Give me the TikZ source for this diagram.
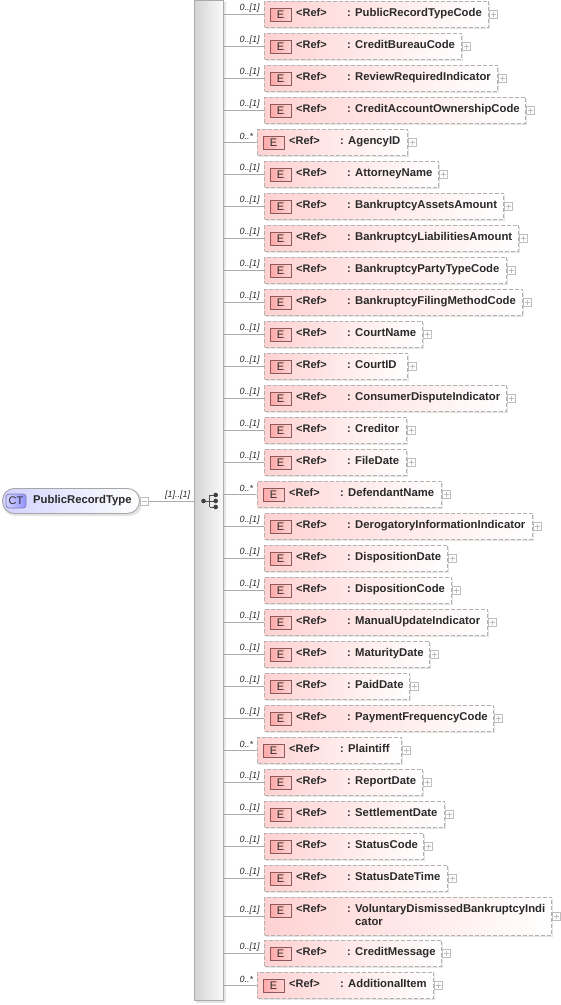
\documentclass[tikz,border=0pt]{standalone}
\usepackage{fontspec}
\setmainfont{Liberation Sans}
\usetikzlibrary{calc}
\definecolor{linegray}{HTML}{ABABAB}
\definecolor{dashgray}{HTML}{B2B2B2}
\definecolor{expgray}{HTML}{BDBDBD}
\definecolor{pinkfill}{HTML}{FFD2D2}
\definecolor{iconred}{HTML}{FFA8A8}
\definecolor{iconline}{HTML}{8A5A5A}
\definecolor{bluefill}{HTML}{D2D2FF}
\definecolor{textdark}{HTML}{2A2A2A}
\tikzset{
  elembox/.style={draw=dashgray,dash pattern=on 4pt off 2pt,line width=1pt,left color=pinkfill,right color=white,minimum height=#1,inner sep=0pt,anchor=north west},
  eicon/.style={draw=iconline,line width=.8pt,left color=iconred,right color=pinkfill,minimum width=21pt,minimum height=13pt,inner sep=0pt,font=\fontsize{11}{13}\selectfont,text=textdark},
  reflabel/.style={anchor=base west,inner sep=0pt,font=\bfseries\fontsize{11}{13}\selectfont,text=textdark},
  namelabel/.style={anchor=base west,inner sep=0pt,font=\bfseries\fontsize{11.3}{13}\selectfont,text=textdark},
  multlabel/.style={anchor=west,inner sep=0pt,font=\itshape\fontsize{9}{11}\selectfont,text=textdark},
  expander/.style={draw=expgray,fill=white,line width=.7pt,minimum size=8pt,inner sep=0pt},
  wire/.style={draw=linegray,line width=.8pt},
  softshadow/.style={fill=black,opacity=.1,draw=none},
}
\newcommand{\elemrow}[7]{%
  % #1 id, #2 top, #3 height, #4 left, #5 right, #6 mult, #7 name
  \fill[softshadow] (#4+2,-#2-2) rectangle (#5+2,-#2-#3-2);
  \node[elembox=#3pt,minimum width=#5pt-#4pt] (e#1) at (#4,-#2) {};
  \coordinate (s#1) at (223,-#2-#3*0.5-1);
  \draw[wire] (s#1) -- (s#1 -| e#1.west);
  \node[multlabel] (m#1) at (239.5,-#2-#3*0.5+5.5) {#6};
  \node[eicon] (i#1) at (#4+16.5,-#2-14.2) {E};
  \node[reflabel] (r#1) at (#4+32,-#2-16) {<Ref>};
  \node[reflabel] (c#1) at (#4+83,-#2-16) {:};
  \node[namelabel] (n#1) at (#4+91,-#2-16) {#7};
  \node[expander] (x#1) at (#5+5.2,-#2-#3*0.5-1) {};
  \draw[expgray,line width=.6pt] ($(x#1.center)+(-2.5,0)$) -- ($(x#1.center)+(2.5,0)$) ($(x#1.center)+(0,-2.5)$) -- ($(x#1.center)+(0,2.5)$);
}
\begin{document}
\begin{tikzpicture}[x=1pt,y=1pt]
\useasboundingbox (0,0) rectangle (561,-1005);
% sequence bar
\fill[softshadow] (196,-2) rectangle (226,-1003);
\node[draw=linegray,line width=.8pt,left color=black!17,right color=black!2,minimum width=29pt,minimum height=1000pt,inner sep=0pt,anchor=north west] (seq) at (194,0) {};
% root
\fill[softshadow,rounded corners=12pt] (3,-490) rectangle (142,-516);
\node[draw=black!35,line width=.9pt,rounded corners=12pt,left color=bluefill,right color=white,minimum width=137pt,minimum height=25pt,inner sep=0pt,anchor=north west] (root) at (2,-488) {};
\node[draw=black!60!blue!50,line width=.8pt,rounded corners=3pt,left color=bluefill,right color=bluefill!70!blue,minimum width=20pt,minimum height=14pt,inner sep=0pt,font=\fontsize{11}{13}\selectfont,text=textdark] (ct) at (16,-501) {CT};
\node[namelabel] (rootname) at (33,-503) {PublicRecordType};
\node[expander] (rootx) at (144.5,-501.5) {};
\draw[expgray,line width=.6pt] ($(rootx.center)+(-2.5,0)$) -- ($(rootx.center)+(2.5,0)$);
\draw[wire] (rootx.east) -- (rootx.east -| seq.west);
\node[multlabel] (rootm) at (165,-495) {[1]..[1]};
% sequence symbol
\coordinate (sqa) at (203.5,-501);
\coordinate (sqt) at (209.5,-495);
\coordinate (sqd) at (209.5,-507);
\coordinate (dota) at (215.7,-495);
\coordinate (dotb) at (215.7,-501);
\coordinate (dotc) at (215.7,-507);
\draw[black!70,line width=1pt] (sqa) -- (dotb) (sqt) -- (sqd) (sqt) -- (dota) (sqd) -- (dotc);
\fill[black!75] (sqa) circle (2.3pt) (dota) circle (2.3pt) (dotb) circle (2.3pt) (dotc) circle (2.3pt);
% rows
\elemrow{1}{0.5}{26}{264}{488}{0..[1]}{PublicRecordTypeCode}
\elemrow{2}{32.5}{26}{264}{461}{0..[1]}{CreditBureauCode}
\elemrow{3}{64.5}{26}{264}{497}{0..[1]}{ReviewRequiredIndicator}
\elemrow{4}{96.5}{26}{264}{525}{0..[1]}{CreditAccountOwnershipCode}
\elemrow{5}{128.5}{26}{257}{407}{0..*}{AgencyID}
\elemrow{6}{160.5}{26}{264}{438}{0..[1]}{AttorneyName}
\elemrow{7}{192.5}{26}{264}{503}{0..[1]}{BankruptcyAssetsAmount}
\elemrow{8}{224.5}{26}{264}{518}{0..[1]}{BankruptcyLiabilitiesAmount}
\elemrow{9}{256.5}{26}{264}{506}{0..[1]}{BankruptcyPartyTypeCode}
\elemrow{10}{288.5}{26}{264}{522}{0..[1]}{BankruptcyFilingMethodCode}
\elemrow{11}{320.5}{26}{264}{422}{0..[1]}{CourtName}
\elemrow{12}{352.5}{26}{264}{407}{0..[1]}{CourtID}
\elemrow{13}{384.5}{26}{264}{506}{0..[1]}{ConsumerDisputeIndicator}
\elemrow{14}{416.5}{26}{264}{406}{0..[1]}{Creditor}
\elemrow{15}{448.5}{26}{264}{406}{0..[1]}{FileDate}
\elemrow{16}{480.5}{26}{257}{441}{0..*}{DefendantName}
\elemrow{17}{512.5}{26}{264}{532}{0..[1]}{DerogatoryInformationIndicator}
\elemrow{18}{544.5}{26}{264}{447}{0..[1]}{DispositionDate}
\elemrow{19}{576.5}{26}{264}{451}{0..[1]}{DispositionCode}
\elemrow{20}{608.5}{26}{264}{487}{0..[1]}{ManualUpdateIndicator}
\elemrow{21}{640.5}{26}{264}{429}{0..[1]}{MaturityDate}
\elemrow{22}{672.5}{26}{264}{409}{0..[1]}{PaidDate}
\elemrow{23}{704.5}{26}{264}{493}{0..[1]}{PaymentFrequencyCode}
\elemrow{24}{736.5}{26}{257}{401}{0..*}{Plaintiff}
\elemrow{25}{768.5}{26}{264}{422}{0..[1]}{ReportDate}
\elemrow{26}{800.5}{26}{264}{444}{0..[1]}{SettlementDate}
\elemrow{27}{832.5}{26}{264}{423}{0..[1]}{StatusCode}
\elemrow{28}{864.5}{26}{264}{447}{0..[1]}{StatusDateTime}
\elemrow{29}{896.5}{38}{264}{551}{0..[1]}{VoluntaryDismissedBankruptcyIndi}
\node[namelabel] (n29b) at (n29.base west |- 0,-925.5) {cator};
\elemrow{30}{939.5}{26}{264}{441}{0..[1]}{CreditMessage}
\elemrow{31}{971.5}{26}{257}{433}{0..*}{AdditionalItem}
\end{tikzpicture}
\end{document}
